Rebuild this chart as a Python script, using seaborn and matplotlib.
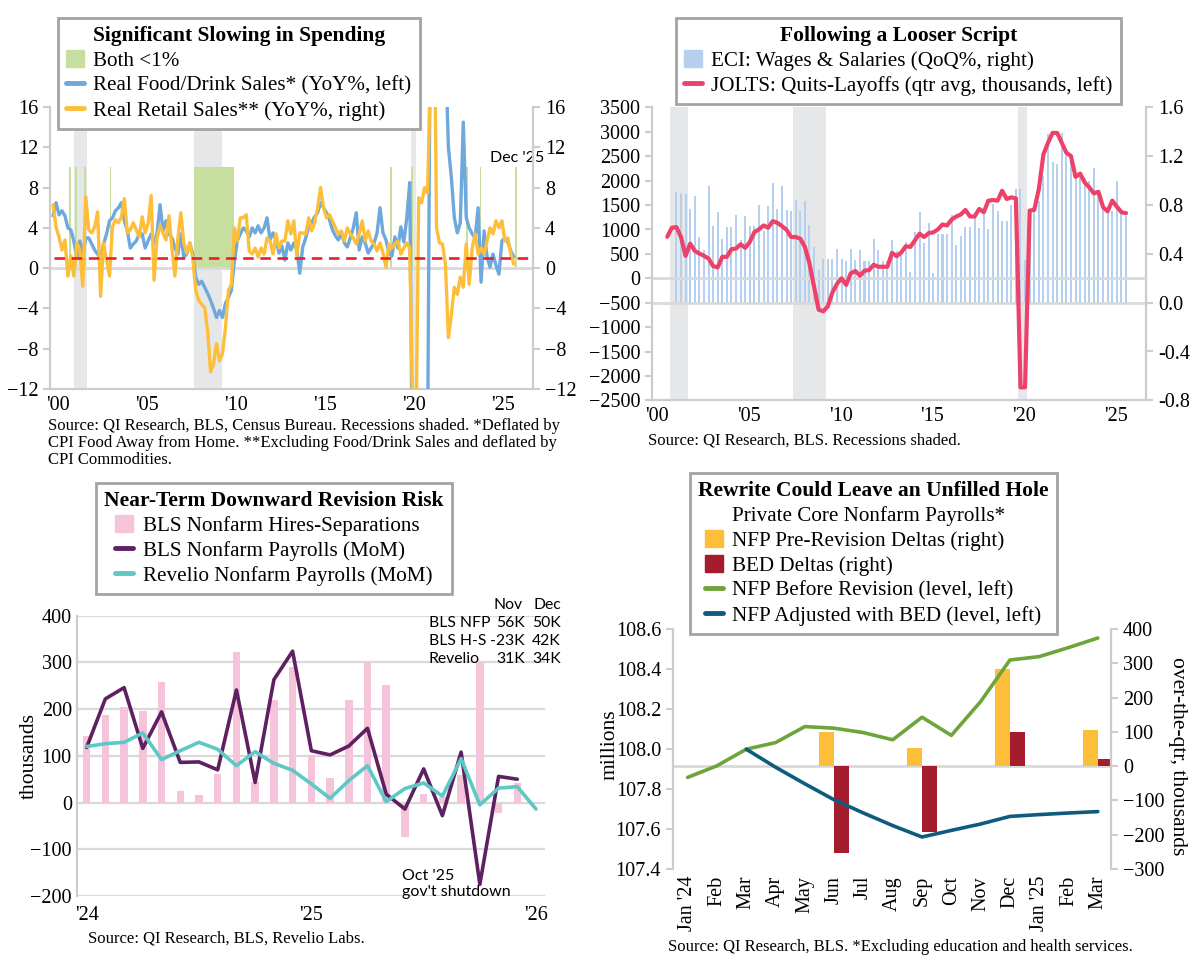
import numpy as np
import pandas as pd
import matplotlib.pyplot as plt
import seaborn as sns
from matplotlib.patches import Patch
from matplotlib.lines import Line2D

sns.set_theme(style='white')
plt.rcParams['font.family'] = ['Liberation Serif', 'DejaVu Serif']
plt.rcParams.update({'text.color': 'black', 'axes.labelcolor': 'black',
                     'xtick.color': 'black', 'ytick.color': 'black'})
SANS = ['Lato', 'DejaVu Sans']

# ---------------- panel 1: bi-monthly YoY %, Jan 2000 - Nov 2025 ----------------
food_drink_yoy = [
    5.2, 6.5, 5.3, 5.7, 5.2, 4.0,      # 2000
    3.8, 2.7, 1.0, 2.7, 1.4, 3.0,      # 2001
    3.0, 2.4, 1.8, 1.4, 0.9, 2.4,      # 2002
    3.4, 4.7, 5.0, 5.7, 6.0, 6.5,      # 2003
    4.7, 3.7, 2.0, 2.4, 2.7, 3.4,      # 2004
    3.4, 2.0, 2.7, 3.4, 2.5, 3.5,      # 2005
    6.3, 3.7, 4.7, 3.4, 3.0, 2.0,      # 2006
    1.4, 3.4, 1.1, 1.4, 2.5, 1.4,      # 2007
    -0.9, -1.6, -1.3, -1.9, -2.5, -3.2,  # 2008
    -4.0, -4.9, -4.2, -4.9, -3.5, -2.9,  # 2009
    -2.2, 0.7, 2.7, 3.4, 4.0, 3.7,     # 2010
    3.1, 4.0, 3.5, 4.2, 3.5, 4.0,      # 2011
    5.0, 2.8, 3.5, 2.8, 1.5, 2.2,      # 2012
    0.8, 2.5, 1.8, 2.5, 1.8, -0.5,     # 2013
    2.1, 3.0, 4.1, 4.5, 5.1, 5.5,      # 2014
    6.5, 6.0, 5.5, 4.8, 3.8, 3.2,      # 2015
    2.8, 3.5, 2.5, 2.1, 3.0, 4.0,      # 2016
    5.5, 1.8, 3.1, 2.5, 1.5, 2.0,      # 2017
    2.5, 3.5, 6.0, 3.5, 2.8, 1.5,      # 2018
    1.2, 3.1, 2.0, 4.1, 2.6, 5.0,      # 2019
    8.5, -25, -45, -30, -22, -20,      # 2020
    -18, 30, 80, 40, 30, 28,           # 2021
    22, 12, 9.0, 5.0, 3.5, 4.5,        # 2022
    14.5, 5.0, 4.0, 3.4, 3.0, 6.0,     # 2023
    -1.4, 3.7, 1.1, 0.1, 1.4, 0.3,     # 2024
    -0.6, 2.7, 3.0, 2.6, 1.7, 1.1,     # 2025
]
retail_yoy = [
    6.3, 4.1, 3.1, 1.8, 2.8, -0.8,     # 2000
    1.2, -0.8, 2.5, 1.8, -1.8, 7.1,    # 2001
    3.8, 3.5, 4.1, 5.6, -2.8, 2.5,     # 2002
    0.8, -0.8, 4.1, 4.8, 4.5, 5.1,     # 2003
    6.9, 3.5, 3.8, 4.5, 3.8, 3.1,      # 2004
    5.1, 3.5, 4.5, 7.2, -1.2, 3.0,     # 2005
    4.2, 3.5, 2.8, 5.2, 2.0, -0.8,     # 2006
    3.0, 5.5, 2.5, 1.5, 2.5, 1.0,      # 2007
    -2.2, -3.2, -3.6, -3.9, -6.2, -10.3,  # 2008
    -9.5, -7.5, -9.2, -8.5, -5.9, -2.2,   # 2009
    -1.6, 4.0, 2.7, 5.0, 5.0, 5.3,     # 2010
    1.7, 1.4, 2.0, 1.1, 2.0, 1.4,      # 2011
    3.0, 2.7, 1.4, 3.4, 2.0, 2.7,      # 2012
    2.7, 4.7, 3.4, 4.7, 1.2, 3.5,      # 2013
    3.5, 3.4, 5.0, 3.7, 4.5, 6.0,      # 2014
    8.0, 6.0, 5.0, 5.3, 4.7, 4.0,      # 2015
    3.4, 3.7, 2.7, 4.0, 3.4, 3.0,      # 2016
    2.4, 3.4, 4.7, 2.7, 3.7, 2.7,      # 2017
    2.4, 1.7, 2.5, 1.5, 0.1, 2.4,      # 2018
    2.0, 2.4, 2.7, 1.4, 2.0, 2.5,      # 2019
    2.0, -15, -20, 7.0, 6.5, 8.0,      # 2020
    7.5, 20, 35, 4.0, 2.5, 2.4,        # 2021
    0.4, -6.9, -4.6, -1.9, -2.6, -0.9, # 2022
    -1.9, 2.4, -1.6, 2.0, 3.4, 1.4,    # 2023
    2.0, 1.4, 2.7, 4.0, 3.4, 4.7,      # 2024
    4.0, 4.7, 2.7, 3.0, 1.4, 0.4,      # 2025
]
both_below_start = ['2000-12', '2001-04', '2001-10', '2003-03', '2007-12',
                    '2018-12', '2020-02', '2023-03', '2023-12', '2025-12']
both_below_months = [1, 1, 1, 1, 27, 1, 1, 1, 1, 1]
both_band_top = 10
recession_start = ['2001-03', '2007-12', '2020-02']
recession_end = ['2001-11', '2009-06', '2020-04']
threshold = 1

# ---------------- panel 2: quarterly ----------------
# JOLTS quits minus layoffs, qtr avg, thousands, 2000Q4 - 2025Q4
jolts_net = [
    850, 1036, 1050, 846, 460, 711, 562, 508, 460, 406, 250, 223, 440, 440,
    596, 609, 697, 623, 745, 948, 1002, 1083, 1036, 1171, 1137, 1070, 995, 846,
    846, 812, 643, 305, -169, -643, -677, -575, -291, -115, 0, -135, 102, 149,
    54, 156, 169, 278, 237, 237, 237, 521, 454, 528, 657, 643, 779, 914, 846, 927,
    941, 1002, 1103, 1083, 1205, 1266, 1307, 1401, 1266, 1266, 1422, 1354, 1591,
    1604, 1591, 1794, 1625, 1659, 1638, -2234, -2234, 1388, 1401, 1828, 2539,
    2776, 2979, 2979, 2776, 2573, 2505, 2078, 2146, 1963, 1862, 1740, 1774, 1456,
    1374, 1591, 1469, 1354, 1334,
]
# ECI wages & salaries QoQ %, 2001Q2 - 2025Q4
eci_wages = [
    0.91, 0.90, 0.89, 0.77, 0.875, 0.54, 0.43, 0.96, 0.63, 0.74, 0.52, 0.62, 0.62,
    0.72, 0.51, 0.71, 0.63, 0.63, 0.80, 0.59, 0.79, 0.98, 0.77, 0.96, 0.76, 0.75,
    0.84, 0.75, 0.83, 0.64, 0.455, 0.27, 0.355, 0.355, 0.355, 0.44, 0.355, 0.34,
    0.44, 0.35, 0.43, 0.34, 0.34, 0.52, 0.43, 0.34, 0.34, 0.51, 0.42, 0.42, 0.50,
    0.25, 0.58, 0.74, 0.49, 0.65,
    0.24, 0.56, 0.56, 0.56, 0.72, 0.47, 0.55, 0.62, 0.62, 0.72, 0.61, 0.73, 0.60,
    0.81, 0.75, 0.67, 0.67, 0.80, 0.93, 0.93, 0.35, 0.76, 0.76, 0.83, 1.04, 1.38,
    1.15, 1.14, 1.39, 1.24, 1.21, 1.06, 1.07, 1.02, 1.00, 1.10, 0.92, 0.78, 0.78,
    0.75, 1.00, 0.75, 0.71,
]
recession_qtrs = [('2001Q1', '2001Q4'), ('2007Q4', '2009Q2'), ('2020Q1', '2020Q2')]

# ---------------- panel 3: monthly, thousands ----------------
hires_minus_sep = [143, 188, 204, 196, 259, 24, 16, 61, 322, 45, 220, 291,
                   101, 53, 220, 301, 251, -74, 19, 12, 60, 299, -23, 42]
bls_nfp = [118, 222, 246, 116, 194, 86, 87, 70, 241, 43, 263, 324,
           111, 102, 121, 159, 18, -14, 72, -28, 108, -175, 56, 50]
revelio_nfp = [120, 126, 129, 149, 92, 111, 129, 114, 79, 109, 84, 69,
               40, 9, 47, 79, 2, 30, 42, 14, 94, -5, 31, 34, -14]
table_rows = [('BLS NFP', '56K', '50K'), ('BLS H-S', '-23K', '42K'), ('Revelio', '31K', '34K')]

# ---------------- panel 4: private core NFP ----------------
months4 = ["Jan '24", 'Feb', 'Mar', 'Apr', 'May', 'Jun', 'Jul', 'Aug', 'Sep',
           'Oct', 'Nov', 'Dec', "Jan '25", 'Feb', 'Mar']
nfp_before = [107.858, 107.916, 107.999, 108.032, 108.112, 108.104, 108.082, 108.046,
              108.159, 108.068, 108.237, 108.445, 108.462, 108.507, 108.555]
nfp_bed = [np.nan, np.nan, 107.999, 107.909, 107.826, 107.746, 107.680, 107.617,
           107.560, 107.593, 107.625, 107.663, 107.672, 107.680, 107.687]
qtr_end_idx = [5, 8, 11, 14]           # Jun, Sep, Dec, Mar
pre_rev_delta = [101, 53, 284, 105]
bed_delta = [-252, -192, 99, 21]

# ---------------- styling ----------------
BLUE, YELLOW, RED = '#6ea8dc', '#fdbf3a', '#e8202a'
GREEN_BAND, REC = '#c6df9f', '#e6e7e9'
ECI_BLUE, JOLTS_RED = '#b5cfee', '#ee4169'
PINK, PURPLE, TEAL = '#f5c4db', '#5f2061', '#5ec8c6'
GOLD, DARKRED, OLIVE, NAVY = '#fdbf3a', '#a51d2d', '#6ea53b', '#0f5b7e'
AXG, GRID, FRAME = '#cccccc', '#d9d9d9', '#a3a3a3'
TICK_FS, LEG_FS, TITLE_FS, SRC_FS, LAB_FS = 14.5, 15.2, 15.5, 12, 15.5
NOTE_FS = 11.3

fig = plt.figure(figsize=(12, 9.71), dpi=100)


def box(l, t, r, b):
    return [l / 1200, 1 - b / 971, (r - l) / 1200, (b - t) / 971]


def dec_month(s):
    d = pd.Timestamp(s)
    return d.year + (d.month - 1) / 12


def dec_qtr(p):
    p = pd.Period(p, freq='Q')
    return p.year + (p.quarter - 1) / 4


def spines(ax, show):
    for s in ['top', 'right', 'left', 'bottom']:
        ax.spines[s].set_visible(s in show)
        ax.spines[s].set_color(AXG)
        ax.spines[s].set_linewidth(1.6)
    ax.tick_params(labelsize=TICK_FS, color=AXG, width=1.5, length=5)


def boxed_legend(handles, labels, title, anchor):
    leg = fig.legend(handles, labels, title=title, loc='upper left', bbox_to_anchor=anchor,
                     borderaxespad=0, frameon=True, fancybox=False, framealpha=1,
                     edgecolor=FRAME, fontsize=LEG_FS, title_fontsize=TITLE_FS,
                     handlelength=0.85, handleheight=0.85, handletextpad=0.45,
                     labelspacing=0.2, borderpad=0.38)
    leg.get_title().set_fontweight('bold')
    leg.get_frame().set_linewidth(2)
    return leg


# ===== Panel 1 =====
ax1 = fig.add_axes(box(50, 107, 533, 389))
t1 = pd.date_range('2000-01-01', periods=len(food_drink_yoy), freq='2MS')
x1 = np.asarray(t1.year + (t1.month - 1) / 12)
for s, e in zip(recession_start, recession_end):
    ax1.axvspan(dec_month(s), dec_month(e) + 1 / 12, color=REC, lw=0, zorder=0)
ax1.bar([dec_month(s) for s in both_below_start], both_band_top,
        width=[m / 12 for m in both_below_months], align='edge', color=GREEN_BAND,
        lw=0, zorder=1)
ax1.axhline(0, color=GRID, lw=2, zorder=1)
sns.lineplot(x=x1, y=food_drink_yoy, ax=ax1, color=BLUE, lw=2.4, zorder=3, legend=False)
sns.lineplot(x=x1, y=retail_yoy, ax=ax1, color=YELLOW, lw=2.4, zorder=4, legend=False)
ax1.axhline(threshold, xmin=0.008, xmax=0.995, color=RED, lw=1.9, ls=(0, (4, 2.5)), zorder=5)
ax1.set_xlim(1999.83, 2026.91)
ax1.set_ylim(-12, 16)
ax1.set_yticks(range(-12, 17, 4))
ax1.set_xticks([y + 0.25 for y in range(2000, 2026, 5)])
ax1.set_xticklabels(["'%02d" % (y % 100) for y in range(2000, 2026, 5)])
spines(ax1, ['left', 'bottom'])
ax1.tick_params(axis='x', length=0, pad=5)
ax1r = ax1.twinx()
ax1r.set_ylim(-12, 16)
ax1r.set_yticks(range(-12, 17, 4))
spines(ax1r, ['right'])
ax1.text(1.024, 0.82, "Dec '25", transform=ax1.transAxes, ha='right', va='center',
         fontsize=11.5, family=SANS)
boxed_legend([Patch(color=GREEN_BAND), Line2D([], [], color=BLUE, lw=3.5),
              Line2D([], [], color=YELLOW, lw=3.5)],
             ['Both <1%', 'Real Food/Drink Sales* (YoY%, left)',
              'Real Retail Sales** (YoY%, right)'],
             'Significant Slowing in Spending', (58 / 1200, 1 - 18 / 971))
fig.text(48 / 1200, 1 - 418 / 971,
         'Source: QI Research, BLS, Census Bureau. Recessions shaded. *Deflated by\n'
         'CPI Food Away from Home. **Excluding Food/Drink Sales and deflated by\n'
         'CPI Commodities.', fontsize=SRC_FS, va='top', linespacing=1.1)

# ===== Panel 2 =====
ax2 = fig.add_axes(box(652, 107.5, 1146, 400.3))
ax2r = ax2.twinx()
x_jolts = [dec_qtr(p) for p in pd.period_range('2000Q4', periods=len(jolts_net), freq='Q')]
x_eci = [dec_qtr(p) for p in pd.period_range('2001Q2', periods=len(eci_wages), freq='Q')]
for s, e in recession_qtrs:
    ax2r.axvspan(dec_qtr(s) - 0.125, dec_qtr(e) + 0.125, color=REC, lw=0, zorder=0)
ax2r.bar(x_eci, eci_wages, width=0.11, color=ECI_BLUE, lw=0, zorder=1)
ax2r.axhline(0, color=GRID, lw=2, zorder=2)
ax2.axhline(0, color=GRID, lw=2, zorder=1)
sns.lineplot(x=x_jolts, y=jolts_net, ax=ax2, color=JOLTS_RED, lw=3, zorder=3, legend=False)
ax2.set_zorder(ax2r.get_zorder() + 1)
ax2.patch.set_visible(False)
ax2.set_xlim(1999.92, 2026.84)
ax2.set_ylim(-2500, 3500)
ax2.set_yticks(range(-2500, 3501, 500))
ax2r.set_ylim(-0.8, 1.6)
ax2r.set_yticks(np.arange(-0.8, 1.61, 0.4))
ax2r.set_yticklabels(['%.1f' % v for v in np.arange(-0.8, 1.61, 0.4)])
ax2.set_xticks([y + 0.2 for y in range(2000, 2026, 5)])
ax2.set_xticklabels(["'%02d" % (y % 100) for y in range(2000, 2026, 5)])
spines(ax2, ['left', 'bottom'])
spines(ax2r, ['right'])
ax2.tick_params(axis='x', length=0, pad=5)
boxed_legend([Patch(color=ECI_BLUE), Line2D([], [], color=JOLTS_RED, lw=3.5)],
             ['ECI: Wages & Salaries (QoQ%, right)',
              'JOLTS: Quits-Layoffs (qtr avg, thousands, left)'],
             'Following a Looser Script', (676 / 1200, 1 - 18 / 971))
fig.text(648 / 1200, 1 - 440 / 971, 'Source: QI Research, BLS. Recessions shaded.',
         fontsize=SRC_FS, va='center')

# ===== Panel 3 =====
ax3 = fig.add_axes(box(76.7, 615.7, 545, 896))
idx3 = np.arange(len(revelio_nfp))
ax3.bar(idx3[:len(hires_minus_sep)], hires_minus_sep, width=0.4, color=PINK, lw=0, zorder=2)
sns.lineplot(x=idx3[:len(bls_nfp)], y=bls_nfp, ax=ax3, color=PURPLE, lw=2.6, zorder=3, legend=False)
sns.lineplot(x=idx3, y=revelio_nfp, ax=ax3, color=TEAL, lw=2.6, zorder=4, legend=False)
ax3.set_xlim(-0.53, 24.48)
ax3.set_ylim(-200, 400)
ax3.set_yticks(range(-200, 401, 100))
ax3.yaxis.grid(True, color=GRID, lw=1.6)
ax3.set_axisbelow(True)
ax3.set_xticks([0, 12, 24])
ax3.set_xticklabels(["'24", "'25", "'26"])
spines(ax3, ['left'])
ax3.tick_params(length=0)
ax3.tick_params(axis='x', pad=7)
ax3.set_ylabel('thousands', fontsize=LAB_FS)
ax3.yaxis.set_label_coords(-0.08, 0.5)
ax3.text(0.953, 1.038, 'Nov', transform=ax3.transAxes, ha='right', va='center', fontsize=NOTE_FS, family=SANS)
ax3.text(1.034, 1.038, 'Dec', transform=ax3.transAxes, ha='right', va='center', fontsize=NOTE_FS, family=SANS)
for i, (name, nov, dec) in enumerate(table_rows):
    yy = 0.975 - i * 0.0645
    ax3.text(0.752, yy, name, transform=ax3.transAxes, ha='left', va='center', fontsize=NOTE_FS, family=SANS)
    ax3.text(0.957, yy, nov, transform=ax3.transAxes, ha='right', va='center', fontsize=NOTE_FS, family=SANS)
    ax3.text(1.034, yy, dec, transform=ax3.transAxes, ha='right', va='center', fontsize=NOTE_FS, family=SANS)
ax3.text(0.694, 0.095, "Oct '25\ngov't shutdown", transform=ax3.transAxes, ha='left', va='top',
         fontsize=11.5, family=SANS, linespacing=1.15)
boxed_legend([Patch(color=PINK), Line2D([], [], color=PURPLE, lw=3.5), Line2D([], [], color=TEAL, lw=3.5)],
             ['BLS Nonfarm Hires-Separations', 'BLS Nonfarm Payrolls (MoM)',
              'Revelio Nonfarm Payrolls (MoM)'],
             'Near-Term Downward Revision Risk', (96 / 1200, 1 - 483 / 971))
fig.text(88 / 1200, 1 - 938 / 971, 'Source: QI Research, BLS, Revelio Labs.',
         fontsize=SRC_FS, va='center')

# ===== Panel 4 =====
ax4 = fig.add_axes(box(673, 629, 1111, 869))
ax4r = ax4.twinx()
idx4 = np.arange(len(months4))
q_idx = np.asarray(qtr_end_idx)
ax4r.bar(q_idx - 0.25, pre_rev_delta, width=0.5, color=GOLD, lw=0, zorder=1)
ax4r.bar(q_idx + 0.25, bed_delta, width=0.5, color=DARKRED, lw=0, zorder=1)
ax4r.axhline(0, color=GRID, lw=2, zorder=0)
sns.lineplot(x=idx4, y=nfp_before, ax=ax4, color=OLIVE, lw=2.6, zorder=3, legend=False)
sns.lineplot(x=idx4, y=nfp_bed, ax=ax4, color=NAVY, lw=2.6, zorder=3, legend=False)
ax4.set_zorder(ax4r.get_zorder() + 1)
ax4.patch.set_visible(False)
ax4.set_xlim(-0.5, 14.45)
ax4.set_ylim(107.4, 108.6)
ax4.set_yticks(np.arange(107.4, 108.61, 0.2))
ax4.set_yticklabels(['%.1f' % v for v in np.arange(107.4, 108.61, 0.2)])
ax4r.set_ylim(-300, 400)
ax4r.set_yticks(range(-300, 401, 100))
ax4.set_xticks(idx4)
ax4.set_xticklabels(months4, rotation=90)
spines(ax4, ['left'])
spines(ax4r, ['right'])
ax4.tick_params(axis='x', length=0, pad=5)
ax4.set_ylabel('millions', fontsize=LAB_FS)
ax4.yaxis.set_label_coords(-0.122, 0.52)
ax4r.set_ylabel('over-the-qtr, thousands', fontsize=LAB_FS, rotation=270, va='bottom')
ax4r.yaxis.set_label_coords(1.13, 0.47)
boxed_legend([Patch(facecolor='none', edgecolor='none'), Patch(color=GOLD), Patch(color=DARKRED),
              Line2D([], [], color=OLIVE, lw=3.5), Line2D([], [], color=NAVY, lw=3.5)],
             ['Private Core Nonfarm Payrolls*', 'NFP Pre-Revision Deltas (right)',
              'BED Deltas (right)', 'NFP Before Revision (level, left)',
              'NFP Adjusted with BED (level, left)'],
             'Rewrite Could Leave an Unfilled Hole', (690 / 1200, 1 - 473 / 971))
fig.text(668 / 1200, 1 - 947 / 971,
         'Source: QI Research, BLS. *Excluding education and health services.',
         fontsize=SRC_FS, va='center')

fig.savefig('out.png', dpi=100)
